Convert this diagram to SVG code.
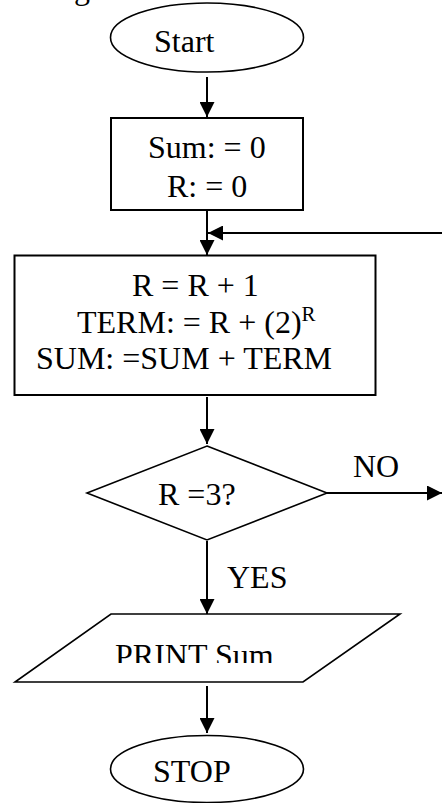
<svg xmlns="http://www.w3.org/2000/svg" width="442" height="803" viewBox="0 0 442 803">
  <style>
    .t { font-family: "Liberation Serif", "Times New Roman", serif; font-size: 32px; fill: #000; }
    .sup { font-size: 21px; }
    .shape { fill: #fff; stroke: #000; stroke-width: 2; }
    .oval { fill: #fff; stroke: #000; stroke-width: 1.6; }
    .conn { stroke: #000; stroke-width: 2; fill: none; marker-end: url(#ah); }
  </style>
  <defs>
    <marker id="ah" markerUnits="userSpaceOnUse" markerWidth="16" markerHeight="15" refX="15" refY="7.5" orient="auto">
      <path d="M0,0 L15,7.5 L0,15 Z" fill="#000"/>
    </marker>
    <clipPath id="printClip">
      <rect x="0" y="600" width="442" height="63"/>
    </clipPath>
  </defs>
  <rect width="442" height="803" fill="#fff"/>

  <text class="t" x="74" y="-1">g</text>

  <g id="connectors">
    <line class="conn" x1="207" y1="77" x2="207" y2="117"/>
    <line class="conn" x1="207" y1="210" x2="207" y2="255"/>
    <line class="conn" x1="442" y1="233" x2="208" y2="233"/>
    <line class="conn" x1="207" y1="397" x2="207" y2="444"/>
    <line class="conn" x1="327" y1="493" x2="442" y2="493"/>
    <line class="conn" x1="207" y1="541" x2="207" y2="614"/>
    <line class="conn" x1="207" y1="686" x2="207" y2="733"/>
    <text class="t" x="353" y="477">NO</text>
    <text class="t" x="227" y="588">YES</text>
  </g>

  <g id="start">
    <ellipse class="oval" cx="207" cy="37.5" rx="96.5" ry="34.5"/>
    <text class="t" x="154" y="52">Start</text>
  </g>

  <g id="init">
    <rect class="shape" x="111" y="118" width="192" height="92"/>
    <text class="t" x="148" y="158">Sum: = 0</text>
    <text class="t" x="167" y="197">R: = 0</text>
  </g>

  <g id="process">
    <rect class="shape" x="14.5" y="255.5" width="361" height="139.5"/>
    <text class="t" x="132" y="296">R = R + 1</text>
    <text class="t" x="77" y="333">TERM: = R + (2)<tspan class="sup" dy="-12">R</tspan></text>
    <text class="t" x="36" y="369">SUM: =SUM + TERM</text>
  </g>

  <g id="decision">
    <polygon class="oval" points="207,446 327,493 207,540 87,493"/>
    <text class="t" x="158" y="505">R =3?</text>
  </g>

  <g id="print">
    <polygon class="oval" points="111,614 400,614 303,682 15,682"/>
    <text class="t" x="115" y="666" clip-path="url(#printClip)">PRINT Sum</text>
  </g>

  <g id="stop">
    <ellipse class="oval" cx="207" cy="769" rx="96.5" ry="33.5"/>
    <text class="t" x="153" y="782">STOP</text>
  </g>
</svg>
